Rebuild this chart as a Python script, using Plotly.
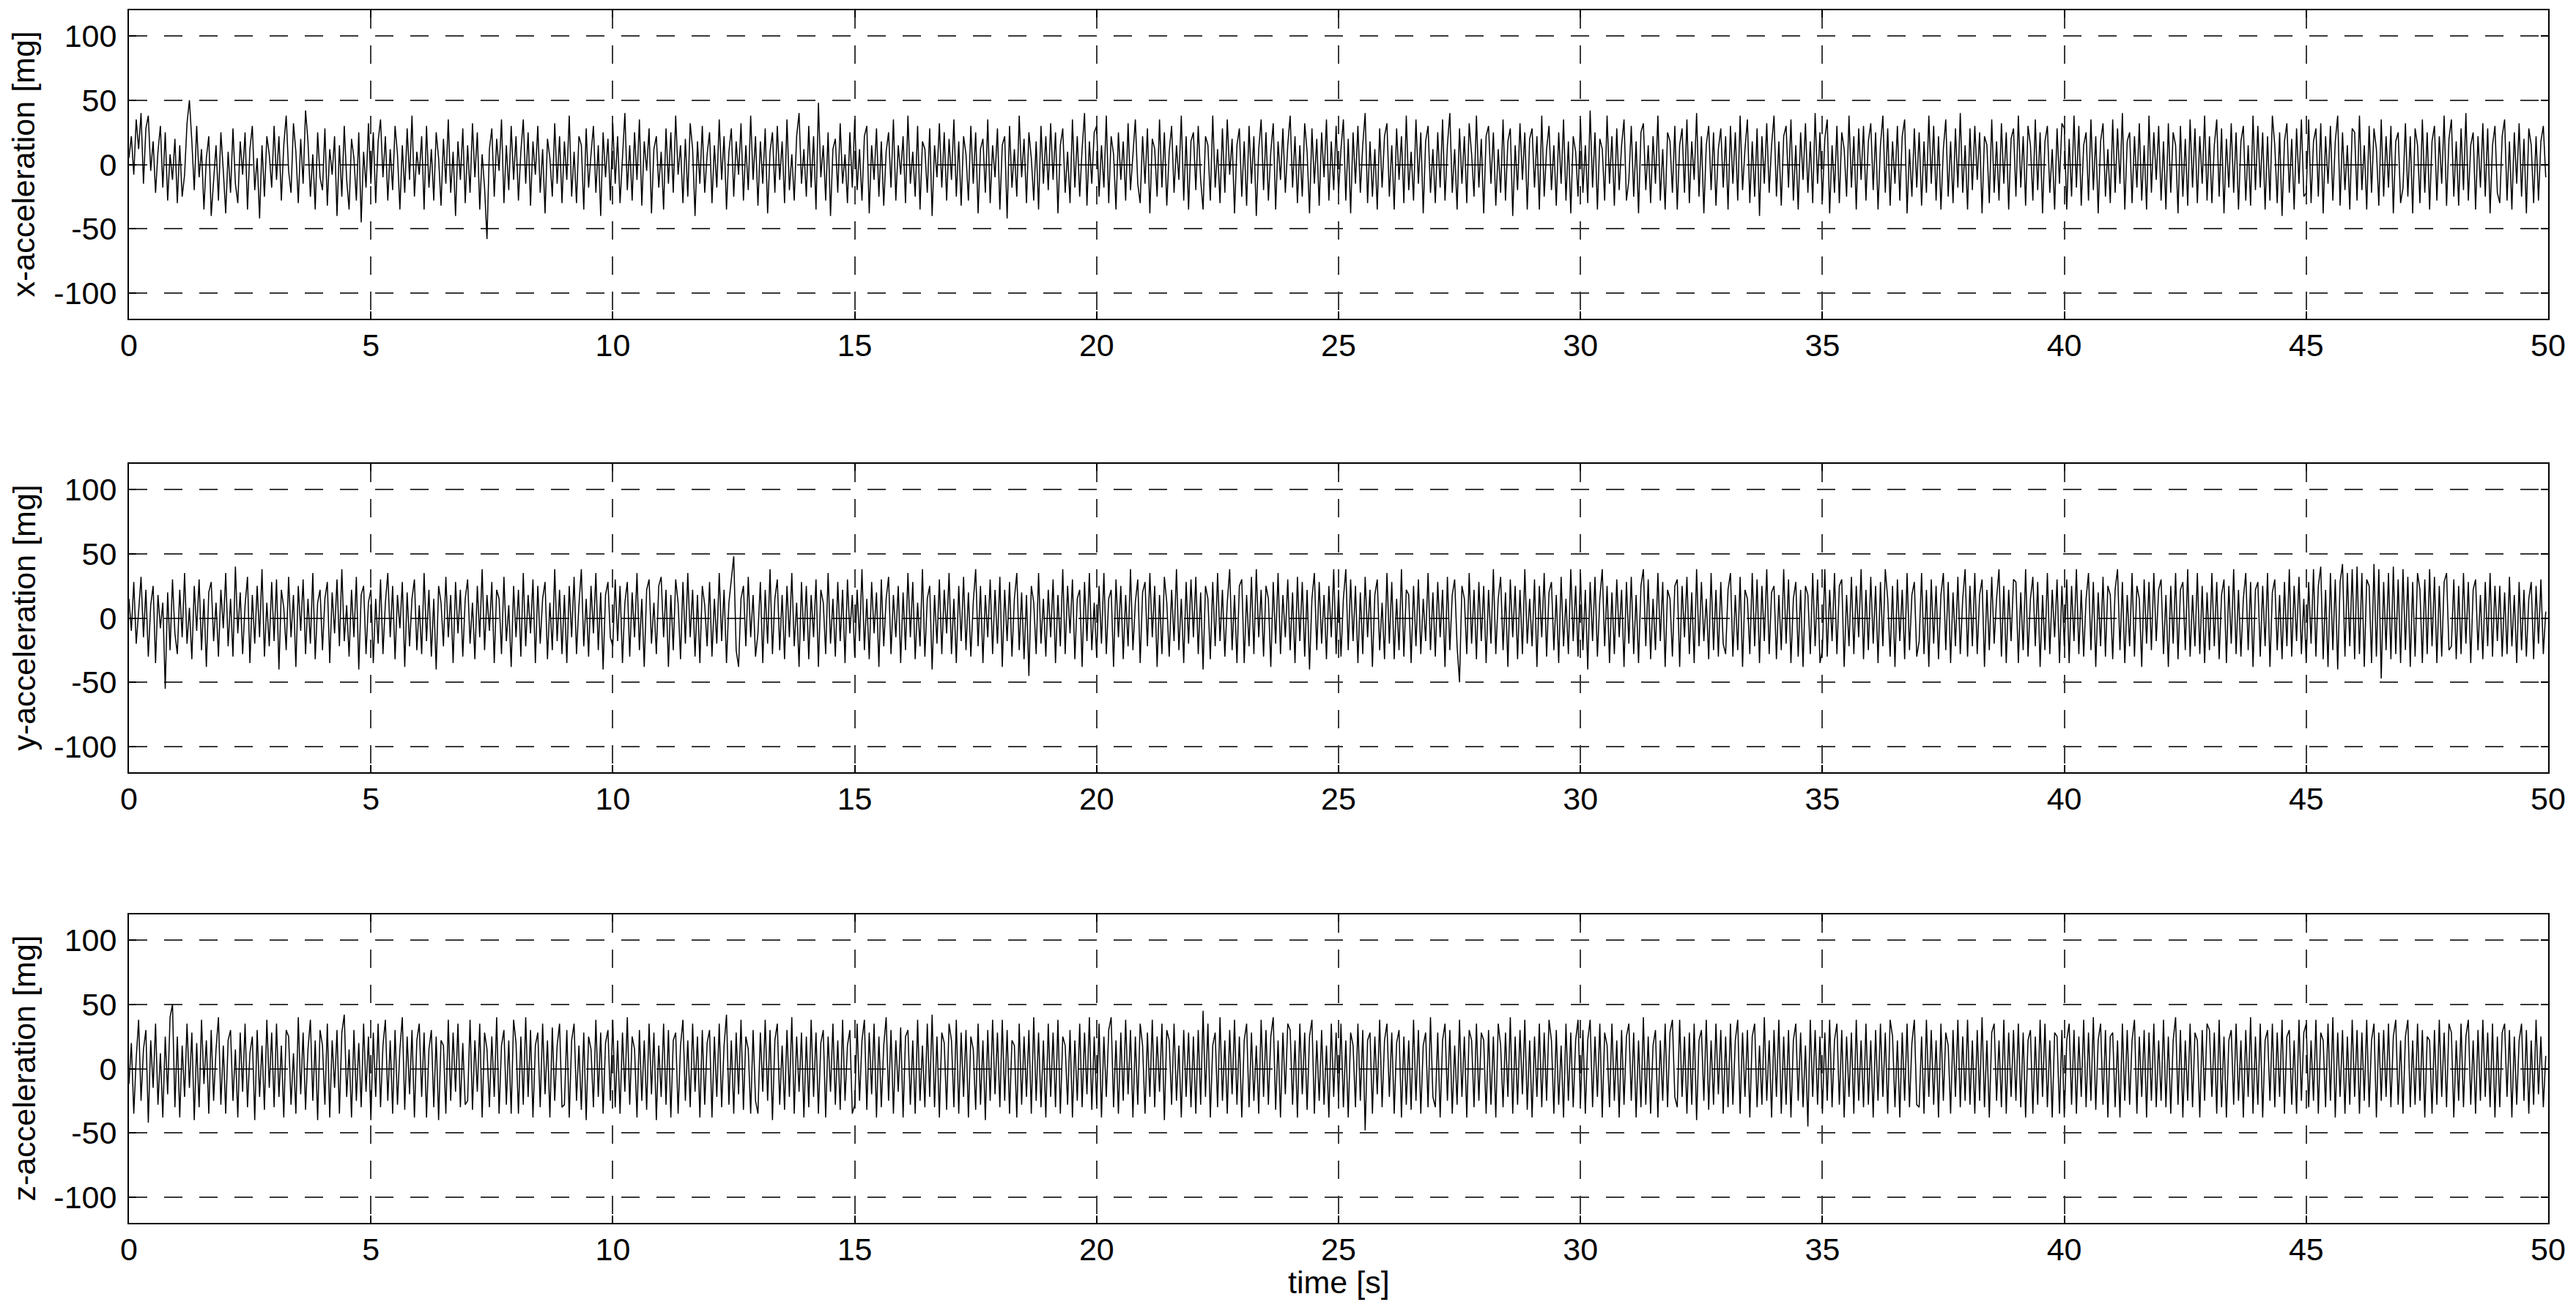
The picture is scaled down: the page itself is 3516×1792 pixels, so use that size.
"""Three-axis accelerometer traces, 0-50 s."""

import numpy as np
import plotly.graph_objects as go

SAMPLE_RATE_HZ = 20.0

# accelerations in mg, one row per second (20 samples)
accel_x_mg = [
    5, 22, -8, 35, 12, 40, -15, 28, 38, -5, 18, -22, 10, 30, -18, 25, -28, 8, -12, 20,
    -30, 15, -25, -8, 32, 50, 18, -20, 30, -10, 12, -35, 5, 22, -40, -12, 15, -28, 25, -5,
    -38, 10, -22, 28, -15, -30, 18, -8, 25, -35, 12, 30, -20, 5, -42, 15, -25, 22, 8, -18,
    30, -12, 22, -28, 15, 38, -5, -22, 32, 10, -30, 20, -15, 42, 18, -25, 8, -35, 25, -10,
    -20, 28, -32, 12, -8, 22, -40, 15, -25, 30, -12, -35, 20, 5, -28, 25, -45, 10, -18, 32,
    -15, 25, -30, 18, 35, -10, 22, -28, 12, -20, 30, 8, -35, 15, -22, 28, -12, 38, -25, 10,
    -8, 22, -35, 30, -18, 12, -28, 25, 5, -32, 20, -15, 35, -22, 10, -40, 18, -12, 28, -30,
    15, -22, 32, -10, 25, -35, 8, -18, -58, 12, 28, -25, 20, -5, 35, -30, 15, -20, 30, -12,
    22, -28, 10, 35, -15, 25, -32, 18, -8, 30, -22, 12, -38, 20, 5, -25, 32, -15, 22, -30,
    18, -12, 38, -25, 10, -30, 22, 15, -35, 28, -18, 8, 30, -22, 15, -40, 25, -10, 20, -28,
    32, -15, 22, -30, 8, 40, -20, 15, -28, 25, -12, 35, -32, 18, -5, 28, -38, 12, 22, -18,
    10, -35, 28, -15, 25, -22, 38, -8, 15, -30, 20, -25, 32, 12, -40, 18, -15, 30, -22, 8,
    25, -30, 15, -18, 35, -12, 22, -35, 10, 28, -25, 18, -8, 32, -28, 15, -20, 38, -12, 22,
    -32, 18, -15, 28, -38, 10, 25, -22, 30, -12, 18, -30, 35, -20, 8, -28, 22, 40, -15, 12,
    -25, 30, -18, 22, -35, 48, -10, 15, -28, 25, -40, 12, 20, -22, 32, -15, 8, -30, 25, -18,
    35, -20, 12, -28, 22, 30, -38, 15, -12, 28, -25, 18, -32, 10, 25, -18, 35, -28, 15, -8,
    22, -30, 38, -15, 10, -25, 30, -35, 18, 12, -22, 28, -40, 15, -10, 32, -18, 25, -28, 20,
    -12, 35, -25, 18, -32, 22, 8, -28, 30, -15, 25, -38, 12, 20, -22, 35, -30, 15, -10, 28,
    -35, 15, 22, -42, 30, -18, 12, -25, 38, -10, 20, -30, 25, 5, -28, 18, -35, 30, -15, 22,
    -20, 32, -12, 25, -38, 15, 28, -22, 10, -30, 35, -18, 22, -25, 12, 40, -32, 18, -15, 25,
    30, -25, 15, -18, 38, -30, 22, 8, -35, 25, -12, 18, -28, 32, -20, 10, 35, -15, -30, 22,
    -15, 28, -38, 20, 12, -25, 35, -18, 25, -32, 10, 30, -22, 15, -12, 38, -28, 22, -35, 18,
    25, -20, 30, -12, -35, 22, 15, -28, 38, -18, 12, -30, 28, -22, 35, -8, 20, -38, 15, 28,
    -25, 18, -32, 30, -15, 22, -40, 12, 35, -20, 25, -28, 10, 32, -35, 18, -12, 28, -22, 15,
    38, -18, 22, -30, 15, -25, 32, 10, -38, 28, -15, 20, -32, 25, -10, 35, -28, 18, -20, 30,
    -22, 12, 35, -28, 20, -38, 25, -15, 30, -22, 15, 40, -30, 18, -25, 12, -35, 28, -18, 22,
    32, -25, 15, -35, 28, -12, 22, -30, 38, -20, 10, -28, 35, -15, 25, -38, 18, 30, -22, 12,
    -30, 25, -18, 35, -28, 15, 40, -22, 12, -35, 28, -15, 22, -30, 32, 8, -25, 38, -18, 20,
    -38, 22, 30, -15, 25, -32, 12, -22, 35, -28, 18, 28, -40, 15, -20, 32, -12, 25, -35, 20,
    28, -18, 22, -35, 38, -25, 12, 30, -20, 15, -32, 25, -15, 35, -28, 18, -38, 22, 10, -25,
    35, -22, 15, -30, 42, -18, 25, -35, 20, 12, -28, 38, -15, 22, -32, 28, -20, 15, 35, -28,
    -12, 30, -25, 18, -38, 25, 32, -20, 15, -30, 22, -15, 38, -28, 12, -35, 25, 18, -22, 30,
    -35, 15, 28, -22, 35, -30, 18, -12, 40, -25, 22, -38, 15, 30, -20, 25, -32, 12, 28, -18,
    22, -35, 30, -15, 25, -28, 38, -20, 12, 35, -30, 18, -25, 28, -40, 22, -15, 32, -22, 15,
    38, -25, 18, -32, 22, 30, -18, 35, -28, 15, -35, 25, -12, 32, -22, 18, -30, 40, -15, 25,
    -28, 20, 35, -38, 15, -22, 30, -30, 25, 12, -25, 38, -18, 22, -35, 28, -12, 30, -28, 18,
    32, -20, 25, -35, 15, 38, -22, 28, -32, 18, -15, 30, -28, 22, 35, -38, 12, -25, 28, -18,
    25, -32, 18, -22, 38, -15, 30, -28, 22, -35, 12, 35, -25, 18, -30, 28, -18, 40, -22, 15,
    -35, 28, -20, 30, -12, 25, -38, 22, 15, -30, 35, -22, 18, -28, 32, -15, 25, -35, 20, 28,
    -25, 38, -18, 22, -32, 30, 15, -28, 35, -20, 25, -38, 18, 30, -22, 12, -35, 28, -15, 32,
    28, -35, 20, -25, 38, -18, 30, -32, 15, 25, -28, 35, -20, 22, -38, 18, 32, -25, 12, -30,
    35, -22, 28, -15, 40, -35, 18, 25, -30, 22, -18, 32, -28, 15, -35, 38, -22, 25, -12, 30,
    -28, 18, -35, 32, -22, 25, 15, -38, 30, -25, 20, -32, 35, -18, 28, -30, 22, -15, 38, -28,
    22, -30, 15, 35, -25, 28, -38, 20, -18, 32, -22, 25, -35, 18, 30, -28, 15, -32, 38, -20,
    30, -18, 25, -35, 22, -28, 38, 15, -30, 25, -40, 18, 32, -22, 20, -35, 28, -15, 35, -25,
    -22, 35, -30, 18, 28, -25, 32, -38, 22, -15, 30, -28, 18, 38, -32, 25, -20, 15, -35, 28,
    25, -28, 38, -20, 15, -35, 30, -22, 28, 12, -32, 35, -25, 22, -18, 30, -38, 18, 25, -30,
    -18, 32, -25, 22, -38, 28, 15, -30, 35, -22, 25, -35, 18, 30, -28, 22, -15, 38, -32, 20,
    35, -25, 18, -32, 28, -20, 40, -28, 15, 25, -35, 22, -18, 32, -25, 28, -38, 15, 30, -22,
    -30, 22, 35, -28, 18, -35, 25, -15, 32, -25, 20, -38, 28, 15, -30, 22, -28, 18, 30, -10,
]

accel_y_mg = [
    15, -10, 28, -20, 5, 32, -15, 22, -30, 10, 25, -35, 18, -8, 12, -55, 20, -25, 30, -12,
    -28, 22, -15, 35, -20, 8, -32, 25, -10, 30, -25, 15, -38, 20, 28, -18, 12, -30, 22, -8,
    35, -22, 15, -30, 40, -12, 20, -28, 10, 32, -35, 18, -20, 25, -15, 38, -30, 12, -22, 28,
    -18, 30, -40, 22, 8, -25, 32, -15, 18, -38, 25, -10, 30, -28, 15, -20, 35, -32, 12, 22,
    -25, 15, 28, -35, 20, -12, 30, -22, 38, -18, 10, -30, 22, -15, 32, -40, 18, 25, -28, 12,
    22, -35, 15, -20, 30, -28, 12, 35, -15, 25, -32, 18, -8, 28, -38, 20, -22, 15, 30, -25,
    10, -28, 35, -18, 22, -30, 15, -40, 25, 12, -22, 32, -15, 18, -35, 28, -12, 22, -30, 15,
    30, -20, 12, -32, 25, -15, 38, -25, 18, -10, 28, -35, 22, 15, -28, 32, -18, 10, -38, 25,
    -15, 22, -30, 35, -22, 18, -12, 30, -35, 25, -20, 15, 28, -32, 12, -25, 38, -18, 22, -28,
    18, -35, 25, -15, 32, -28, 10, 38, -22, 15, -30, 25, -12, 35, -25, 20, -40, 18, 28, -15,
    -22, 30, -18, 25, -35, 12, 28, -30, 20, -15, 35, -25, 15, -38, 22, 30, -20, 12, -28, 25,
    32, -15, 22, -38, 18, -25, 30, 12, -32, 28, -20, 35, -15, 22, -30, 18, -35, 25, 10, -22,
    28, -30, 15, -20, 35, -18, 22, -35, 12, 30, 48, -25, -38, 15, 25, -22, 32, -15, 18, -30,
    -12, 28, -35, 22, -20, 38, -28, 15, 30, -25, 18, -32, 25, -15, 35, -22, 12, -38, 28, -18,
    25, -32, 18, -15, 30, -38, 22, 12, -28, 35, -20, 15, -30, 28, -18, 22, -35, 30, -12, 18,
    -30, 22, -18, 38, -25, 15, -32, 28, -12, 20, -38, 30, -22, 15, 32, -28, 18, -15, 25, -35,
    20, -25, 35, -15, 28, -32, 12, -22, 38, -30, 15, 25, -40, 18, -20, 30, -28, 22, -12, 35,
    -28, 15, -35, 25, -18, 32, -25, 20, -30, 12, 38, -22, 25, -35, 18, -15, 30, -28, 22, -20,
    32, -38, 22, -18, 28, -30, 15, 35, -25, 20, -32, 18, -45, 25, 12, -28, 35, -20, 15, -30,
    22, -15, 30, -35, 18, -22, 38, -28, 25, -12, 30, -32, 15, 22, -38, 28, -18, 35, -25, 12,
    -30, 25, -20, 35, -28, 15, 22, -38, 30, -15, 25, -32, 18, -22, 38, -25, 12, 30, -35, 20,
    28, -22, 35, -15, 25, -38, 18, -28, 32, 12, -30, 22, -18, 38, -25, 15, -35, 28, -20, 30,
    -15, 32, -28, 20, -40, 25, 15, -32, 28, -22, 35, -18, 22, -30, 12, 38, -25, 18, -35, 25,
    30, -35, 18, -22, 32, -28, 38, -15, 22, -30, 25, 15, -38, 28, -20, 35, -28, 18, -15, 30,
    -25, 20, -35, 32, -18, 28, -30, 22, -40, 15, 35, -25, 28, -20, 18, -32, 25, -15, 38, -28,
    22, -30, 15, 38, -25, 30, -18, 25, -35, 20, -28, 32, -15, 22, -38, 18, 30, -25, 12, -32,
    35, -20, 28, -32, 15, -25, 38, -30, 22, 18, -35, 25, -22, 30, -28, 15, -18, 35, -25, 20,
    -30, 28, -15, 22, -38, 32, -25, 18, 30, -22, -50, 25, 15, -28, 35, -20, 22, -32, 28, -18,
    25, -35, 22, -20, 38, -28, 15, 32, -25, 20, -38, 30, -15, 25, -32, 22, -28, 38, -20, 15,
    -22, 30, -38, 25, -15, 35, -30, 20, 28, -25, 18, -35, 32, -22, 15, -28, 38, -18, 25, -30,
    35, -25, 22, -40, 28, -18, 32, -30, 15, 38, -22, 25, -35, 20, -28, 30, -15, 22, -38, 28,
    -20, 32, -28, 18, -35, 25, 38, -22, 30, -32, 15, -25, 35, -18, 28, -38, 22, 15, -30, 25,
    30, -38, 25, -15, 32, -28, 20, -35, 38, -22, 28, -18, 15, -32, 35, -25, 22, -30, 28, -20,
    -28, 22, 35, -30, 18, -25, 32, -38, 22, 15, -28, 35, -22, 30, -35, 25, -18, 38, -28, 20,
    25, -32, 18, -25, 38, -20, 30, -35, 15, 28, -30, 22, -38, 25, 18, -28, 35, -22, 30, -35,
    -25, 38, -30, 22, -18, 35, -28, 25, 30, -38, 18, -22, 32, -28, 25, -15, 38, -32, 22, -25,
    32, -20, 25, -35, 28, -22, 38, 15, -30, 25, -38, 30, -18, 22, -32, 35, -25, 18, 28, -30,
    -18, 35, -28, 22, -38, 30, -20, 25, -32, 18, 35, -25, 28, -35, 20, -22, 32, -28, 15, 38,
    -30, 25, -22, 35, -28, 18, 30, -38, 22, -25, 32, -20, 15, 38, -30, 25, -35, 22, -18, 30,
    28, -35, 20, -25, 38, -30, 15, 32, -22, 28, -38, 18, -25, 35, -28, 22, -15, 30, -35, 25,
    -22, 30, -35, 25, -18, 38, -28, 22, -30, 15, 35, -25, 28, -38, 20, -22, 32, -30, 25, 18,
    -32, 22, 38, -25, 28, -35, 18, -22, 35, -30, 25, 15, -38, 30, -20, 28, -25, 35, -18, 22,
    30, -28, 18, -38, 25, -20, 35, -32, 22, 28, -25, 38, -30, 18, -22, 35, -28, 25, -35, 20,
    -25, 35, -22, 28, -32, 18, 30, -35, 25, -20, 38, -28, 22, -30, 15, 35, -25, 28, -38, 22,
    28, -30, 25, -22, 35, -38, 20, 30, -25, 18, -32, 28, -22, 38, -30, 25, -18, 32, -28, 15,
    -35, 28, -20, 38, -30, 25, 40, -32, 22, -38, 35, -25, 30, -40, 28, 42, -30, 35, -22, 38,
    -32, 40, -28, 35, -38, 30, 25, -35, 42, -30, 38, -47, 28, -25, 35, -32, 40, -28, 30, -35,
    38, -25, 32, -38, 28, -30, 35, 22, -35, 30, -28, 38, -22, 32, -35, 25, -30, 28, 35, -25,
    -22, 30, -32, 25, -28, 35, -20, 28, -35, 22, 30, -25, 18, -32, 28, -22, 35, -30, 25, -18,
    25, -30, 20, -28, 32, -22, 18, -35, 28, -25, 22, -30, 15, 28, -32, 25, -20, 30, -28, 5,
]

accel_z_mg = [
    -12, 20, -35, 8, 38, -25, 15, 30, -42, 22, -15, 35, -28, 12, -38, 25, -20, 40, 50, -30,
    25, -38, 18, -22, 35, -15, 28, -40, 20, -30, 38, -12, 22, -35, 30, -25, 15, 40, -28, 18,
    -35, 22, 30, -25, 15, -38, 28, -18, 35, -30, 12, 25, -40, 30, -22, 18, -32, 38, -15, 28,
    -30, 35, -22, 18, -38, 30, 25, -28, 12, -35, 40, -20, 28, -32, 15, 38, -25, 22, -40, 30,
    18, -28, 35, -38, 22, -15, 30, -35, 28, 42, -22, 15, -38, 30, -25, 20, -30, 35, -18, 25,
    -40, 28, -22, 35, -30, 18, 38, -25, 22, -35, 30, -28, 15, 40, -32, 25, -20, 30, -38, 22,
    35, -22, 28, -38, 15, 30, -30, 25, -40, 22, 18, -35, 38, -25, 28, -18, 35, -30, 20, -28,
    -25, 38, -32, 22, -18, 35, -38, 28, 15, -30, 25, -22, 40, -35, 18, 30, -28, 22, -35, 38,
    20, -35, 25, -28, 40, -22, 30, -38, 18, 28, -30, 35, -20, 22, -38, 32, -25, 18, 35, -30,
    -28, 30, -38, 22, 35, -25, 18, -32, 28, -40, 25, 15, -30, 38, -22, 28, -35, 20, 30, -25,
    38, -30, 22, -35, 28, -18, 40, -28, 25, 15, -38, 30, -25, 22, -32, 35, -20, 28, -40, 18,
    -22, 35, -28, 30, -38, 22, 28, -35, 18, 38, -25, 22, -30, 35, -18, 25, -38, 30, -28, 20,
    30, -38, 25, -22, 35, -30, 18, 42, -28, 22, -35, 28, -20, 38, -32, 25, 15, -35, 30, -25,
    -35, 28, -18, 38, -25, 30, -40, 22, 35, -28, 18, -32, 30, -22, 40, -35, 25, -18, 28, -38,
    25, -30, 38, -22, 28, -35, 20, 30, -38, 25, -18, 35, -28, 22, -32, 38, -25, 18, 30, -35,
    -28, 35, -25, 22, 38, -32, 28, -20, 35, -38, 25, -30, 18, 40, -25, 30, -35, 22, -18, 32,
    -38, 25, 30, -28, 22, -35, 38, -25, 18, -30, 35, -22, 42, -30, 25, -38, 28, 20, -32, 35,
    22, -30, 38, -35, 28, -22, 30, -38, 25, 15, -32, 35, -28, 22, -40, 30, -25, 38, -20, 28,
    -30, 38, -25, 30, -35, 22, 18, -38, 35, -28, 25, -22, 30, -35, 40, -25, 28, -30, 22, -38,
    35, -22, 28, -30, 38, -35, 25, 18, -28, 30, -38, 22, -25, 35, -30, 28, -20, 40, -32, 25,
    -28, 35, -38, 25, -22, 30, 40, -30, 22, -35, 28, -25, 38, -20, 30, -38, 25, -28, 35, 18,
    -35, 28, -22, 38, -30, 25, -18, 35, -40, 30, 22, -28, 35, -25, 18, -38, 30, -22, 28, -30,
    25, -35, 30, -28, 45, -22, 35, -38, 18, 28, -30, 40, -25, 22, -35, 30, -20, 38, -28, 25,
    -38, 22, 35, -30, 28, -25, 18, -35, 38, -22, 30, -28, 25, 40, -32, 22, -38, 28, -20, 35,
    30, -28, 22, -38, 35, -20, 28, -32, 25, 38, -35, 22, -25, 30, -28, 18, -38, 35, -22, 28,
    -25, 35, -30, 22, -38, 28, 18, -30, 35, -25, 30, -48, 22, 28, -35, 25, -20, 38, -30, 22,
    35, -22, 28, -35, 20, 30, -38, 25, -28, 22, -32, 38, -25, 30, -35, 18, 28, -30, 40, -22,
    -30, 28, -38, 22, 35, -25, 30, -35, 18, -28, 38, -22, 25, -38, 30, 22, -30, 35, -25, 28,
    22, -35, 30, -28, 25, -38, 35, 18, -30, 28, -22, 40, -35, 25, -28, 30, -20, 38, -32, 22,
    -38, 25, -22, 35, -30, 28, -25, 38, 22, -35, 30, -28, 18, -38, 35, -25, 28, -30, 22, 38,
    -28, 30, -35, 22, 38, -30, 25, -22, 35, -38, 28, 18, -30, 35, -25, 22, -38, 30, -28, 25,
    35, -25, 28, -38, 22, -30, 40, -28, 25, -35, 18, 30, -38, 22, -25, 35, -30, 28, 38, -22,
    -30, 38, -22, 25, -35, 28, -28, 35, -40, 22, 30, -25, 38, -32, 22, -28, 35, -20, 30, -35,
    25, -30, 35, -28, 22, 38, -35, 28, -22, 30, -38, 25, 35, -30, 18, -28, 40, -25, 22, -38,
    30, -22, 38, -35, 25, -28, 30, -38, 22, 35, -25, 28, -30, 18, -45, 38, -22, 30, -28, 25,
    -35, 28, -25, 38, -30, 22, 35, -28, 30, -38, 25, -22, 28, -35, 38, -25, 22, -30, 35, -28,
    22, -38, 30, -25, 35, -22, 28, -35, 38, 25, -30, 22, -38, 28, -25, 35, -30, 20, 38, -28,
    -30, 25, -35, 38, -22, 30, -28, 22, -38, 35, -25, 28, 18, -35, 30, -22, 38, -30, 25, -25,
    38, -28, 22, -35, 30, -25, 40, -30, 22, -38, 28, 35, -25, 22, -30, 38, -35, 28, -22, 30,
    -25, 35, -30, 28, -38, 22, 30, -35, 25, -28, 38, -22, 35, -30, 22, -38, 28, 25, -35, 30,
    -38, 22, 35, -28, 30, -35, 25, -22, 38, -30, 28, -25, 40, -32, 22, 35, -28, 30, -38, 25,
    28, -30, 22, -38, 35, -25, 30, -28, 22, 38, -35, 25, -22, 30, -38, 28, -25, 35, -30, 22,
    -25, 38, -30, 25, -35, 22, 40, -28, 30, -38, 22, -25, 35, -30, 28, 22, -38, 30, -25, 35,
    30, -22, 28, -35, 38, -30, 25, -38, 22, 30, -28, 35, -25, 22, -38, 30, -22, 40, -35, 25,
    -28, 35, -38, 22, 30, -25, 35, -30, 28, -22, 38, -35, 25, 30, -28, 22, -35, 38, -25, 28,
    35, -30, 22, -25, 38, -35, 28, 22, -30, 35, -25, 40, -38, 28, -22, 30, -35, 25, -28, 38,
    -22, 30, -35, 28, -25, 38, -30, 22, 35, -38, 28, -25, 30, -22, 35, -30, 25, 38, -28, 22,
    -35, 25, 38, -30, 22, -28, 35, -25, 30, -38, 25, 22, -35, 30, -28, 38, -22, 28, -30, 35,
    28, -38, 22, -25, 35, -30, 25, 38, -28, 22, -35, 30, -25, 38, -22, 28, -30, 35, -38, 25,
    -30, 28, 35, -22, 30, -38, 25, -28, 22, 35, -25, 30, -35, 22, -28, 38, -20, 25, -30, 10,
]

axis_labels = ["x-acceleration [mg]", "y-acceleration [mg]", "z-acceleration [mg]"]
y_tick_values = [-100, -50, 0, 50, 100]
y_tick_text = ["-100", "-50", "0", "50", "100"]

FONT = "Liberation Sans, Arial, sans-serif"
FONT_SIZE = 43
FIG_W, FIG_H = 3516, 1792
X_DOMAIN = [176 / FIG_W, 3478 / FIG_W]
# panel top/bottom edges in pixels
PANEL_PX = [(14, 435), (633, 1054), (1248, 1669)]

fig = go.Figure()

axis_common = dict(
    showline=True,
    mirror="ticks",
    linecolor="black",
    linewidth=2,
    ticks="inside",
    ticklen=10,
    tickwidth=1.5,
    tickcolor="black",
    showgrid=True,
    gridcolor="#3a3a3a",
    gridwidth=1.5,
    griddash="25px,23px",
    zeroline=False,
    automargin=False,
    tickfont=dict(family=FONT, size=FONT_SIZE, color="black"),
)

series = [accel_x_mg, accel_y_mg, accel_z_mg]
for i, (values, label) in enumerate(zip(series, axis_labels)):
    suffix = "" if i == 0 else str(i + 1)
    time_s = np.arange(len(values)) / SAMPLE_RATE_HZ
    fig.add_trace(
        go.Scatter(
            x=time_s,
            y=values,
            mode="lines",
            line={"color": "black", "width": 1.5},
            xaxis="x" + suffix,
            yaxis="y" + suffix,
            showlegend=False,
        )
    )

    top_px, bottom_px = PANEL_PX[i]
    y_domain = [(FIG_H - bottom_px) / FIG_H, (FIG_H - top_px) / FIG_H]

    fig.update_layout(
        {
            "xaxis" + suffix: dict(
                axis_common,
                domain=X_DOMAIN,
                range=[0, 50],
                tick0=0,
                dtick=5,
                anchor="y" + suffix,
                ticklabelstandoff=-3,
            ),
            "yaxis" + suffix: dict(
                axis_common,
                domain=y_domain,
                range=[-120, 120],
                tickvals=y_tick_values,
                ticktext=y_tick_text,
                anchor="x" + suffix,
                ticklabelstandoff=6,
            ),
        }
    )

    fig.add_annotation(
        text=label,
        xref="paper",
        yref="paper",
        x=32 / FIG_W,
        y=sum(y_domain) / 2,
        xanchor="center",
        yanchor="middle",
        textangle=-90,
        showarrow=False,
        font=dict(family=FONT, size=FONT_SIZE, color="black"),
    )

fig.add_annotation(
    text="time [s]",
    xref="paper",
    yref="paper",
    x=sum(X_DOMAIN) / 2,
    y=(FIG_H - 1750) / FIG_H,
    xanchor="center",
    yanchor="middle",
    showarrow=False,
    font=dict(family=FONT, size=FONT_SIZE, color="black"),
)

fig.update_layout(
    width=FIG_W,
    height=FIG_H,
    margin=dict(l=0, r=0, t=0, b=0),
    paper_bgcolor="white",
    plot_bgcolor="white",
)

fig.write_html(
    "out.html",
    config={"displayModeBar": False},
    post_script="document.body.style.margin='0';",
)
